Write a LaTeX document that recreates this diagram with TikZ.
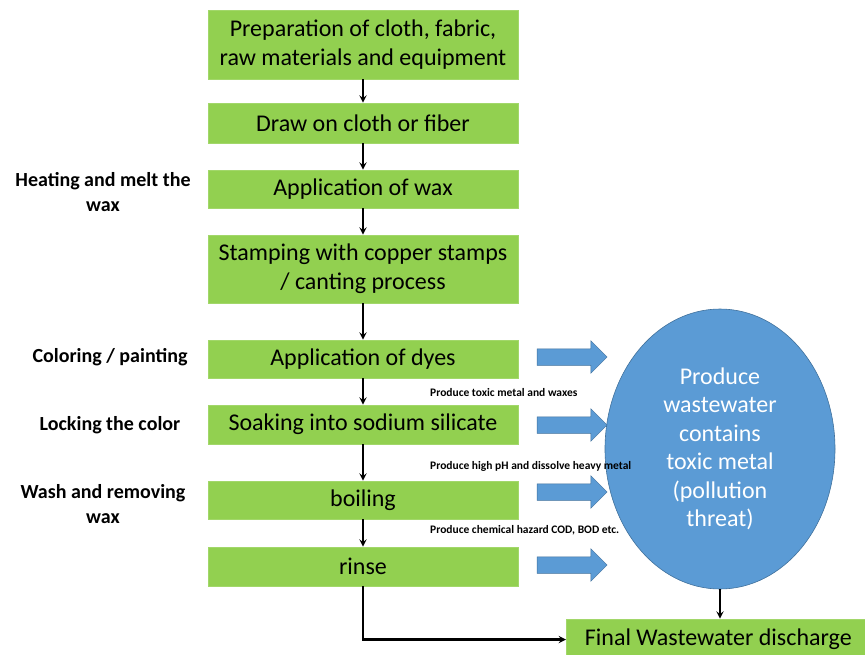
\documentclass[tikz,border=0pt]{standalone}
\usepackage{fontspec}
\setmainfont{Carlito}
\usetikzlibrary{shapes.geometric,shapes.arrows}
\definecolor{stepgreen}{HTML}{92D050}
\definecolor{wasteblue}{HTML}{5B9BD5}
\definecolor{wasteline}{HTML}{41719C}
\begin{document}
\begin{tikzpicture}[x=1pt,y=-1pt,
    box/.style={rectangle, fill=stepgreen, draw=stepgreen!85!white, line width=0.6pt, minimum width=310pt, align=center, inner sep=0pt, font=\fontsize{24}{29}\selectfont},
    side/.style={align=center, font=\bfseries\fontsize{20}{25}\selectfont},
    note/.style={anchor=west, inner sep=0pt, font=\bfseries\fontsize{11.5}{13}\selectfont},
    flow/.style={single arrow, fill=wasteblue, draw=wasteline, line width=0.5pt, minimum height=70pt, inner sep=0pt, inner ysep=8pt, single arrow head extend=8pt},
    arrow/.style={->, >=stealth, line width=2.2pt}
]
    \useasboundingbox (0,0) rectangle (865,654);

    % Process steps
    \node[box, minimum height=69pt] (prep) at (363,44.5) {Preparation of cloth, fabric,\\raw materials and equipment};
    \node[box, minimum height=40pt] (draw) at (363,123) {Draw on cloth or fiber};
    \node[box, minimum height=38pt] (wax) at (363,189) {Application of wax};
    \node[box, minimum height=68pt] (stamp) at (363,269) {Stamping with copper stamps\\/ canting process};
    \node[box, minimum height=38pt] (dyes) at (363,359) {Application of dyes};
    \node[box, minimum height=39pt] (soak) at (363,424.5) {Soaking into sodium silicate};
    \node[box, minimum height=38pt] (boil) at (363,500) {boiling};
    \node[box, minimum height=39pt] (rinse) at (363,566.5) {rinse};

    % Side labels
    \node[side] (heatlbl) at (103,192) {Heating and melt the\\wax};
    \node[side] (colorlbl) at (110,357) {Coloring / painting};
    \node[side] (locklbl) at (110,425) {Locking the color};
    \node[side] (washlbl) at (103,504) {Wash and removing\\wax};

    % Wastewater
    \node[ellipse, fill=wasteblue, draw=wasteline, line width=0.6pt, minimum width=230pt, minimum height=280pt, inner sep=0pt, align=center, text=white, font=\fontsize{24}{28.5}\selectfont] (waste) at (720,449) {Produce\\wastewater\\contains\\toxic metal\\(pollution\\threat)};
    \node[box, minimum width=304pt, minimum height=41pt, anchor=west] (final) at (566,639.5) {Final Wastewater discharge};

    % Block arrows
    \node[flow] (flowa) at (568,357) {};
    \node[flow] (flowb) at (568,425) {};
    \node[flow] (flowc) at (568,492) {};
    \node[flow] (flowd) at (568,565) {};

    % Notes
    \node[note] (notea) at (430,393) {Produce toxic metal and waxes};
    \node[note] (noteb) at (430,466) {Produce high pH and dissolve heavy metal};
    \node[note] (notec) at (430,530) {Produce chemical hazard COD, BOD etc.};

    % Arrows
    \draw[arrow] (prep) -- (draw);
    \draw[arrow] (draw) -- (wax);
    \draw[arrow] (wax) -- (stamp);
    \draw[arrow] (stamp) -- (dyes);
    \draw[arrow] (dyes) -- (soak);
    \draw[arrow] (soak) -- (boil);
    \draw[arrow] (boil) -- (rinse);
    \draw[arrow] (rinse.south) |- (final.west);
    \draw[arrow] (waste.south) -- (waste.south |- final.north);

\end{tikzpicture}
\end{document}
